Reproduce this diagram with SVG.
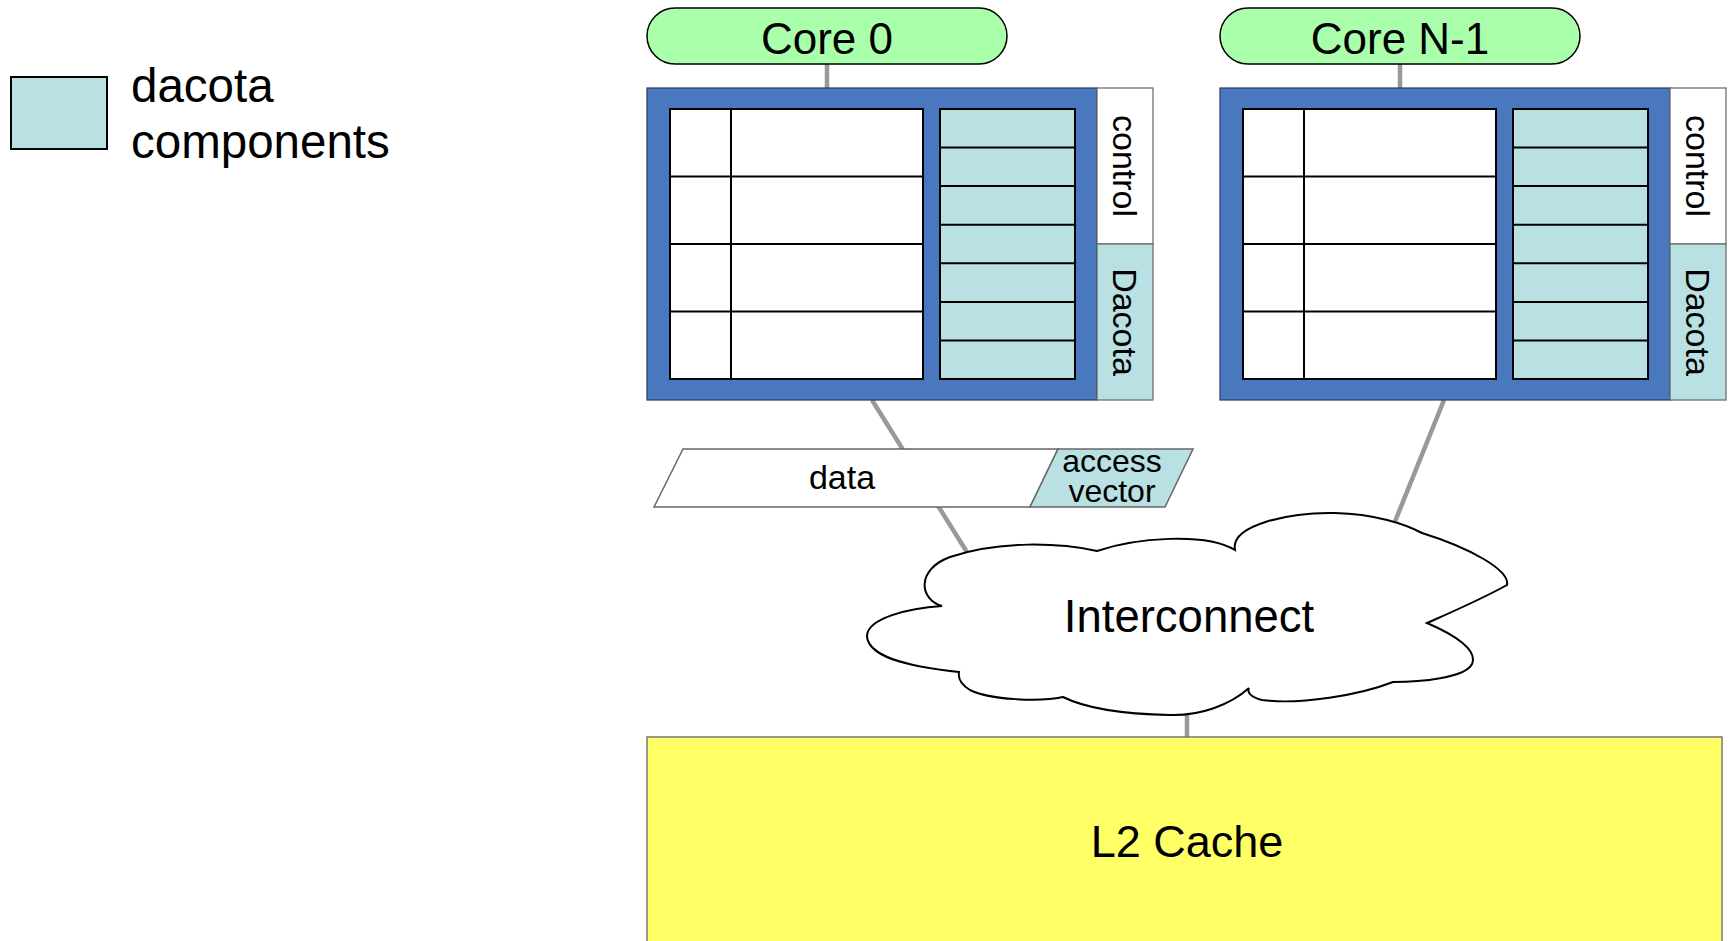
<svg xmlns="http://www.w3.org/2000/svg" width="1729" height="941" viewBox="0 0 1729 941">
  <style>
    text { font-family: "Liberation Sans", Arial, sans-serif; fill: #000; }
    .wire { stroke: #999; stroke-width: 4.5; fill: none; }
    .pill { fill: #aaffaa; stroke: #000; stroke-width: 1.5; }
    .frame { fill: #4a78be; stroke: #2a3a5a; stroke-width: 1.2; }
    .cell { fill: #fff; stroke: #000; stroke-width: 2; }
    .dcell { fill: #b9e0e2; stroke: #000; stroke-width: 2; }
    .grid { stroke: #000; stroke-width: 2; }
    .side { stroke: #666; stroke-width: 1.2; }
    .dac { fill: #b9e0e2; }
    .title { font-size: 44px; text-anchor: middle; }
    .vlabel { font-size: 34px; text-anchor: middle; }
  </style>

  <!-- links between blocks (drawn first so shapes sit on top) -->
  <g id="connectors">
    <line class="wire" x1="827" y1="63" x2="827" y2="89"/>
    <line class="wire" x1="1400" y1="63" x2="1400" y2="89"/>
    <line class="wire" x1="872" y1="400" x2="970" y2="557"/>
    <line class="wire" x1="1444" y1="400" x2="1394" y2="524"/>
    <line class="wire" x1="1187" y1="710" x2="1187" y2="738"/>
  </g>

  <!-- legend -->
  <g id="legend">
    <rect x="11" y="77" width="96" height="72" fill="#b9e0e2" stroke="#000" stroke-width="2"/>
    <text x="131" y="102" font-size="47.5">dacota</text>
    <text x="131" y="158" font-size="47.5">components</text>
  </g>

  <!-- core 0 -->
  <g id="core0">
    <rect class="pill" x="647" y="8" width="360" height="56" rx="28" ry="28"/>
    <text class="title" x="827" y="54">Core 0</text>
  </g>
  <g id="core0-block">
    <rect class="frame" x="647" y="88" width="450" height="312"/>
    <rect class="cell" x="670" y="109" width="253" height="270"/>
    <path class="grid" d="M731 109V379M670 176.5H923M670 244H923M670 311.5H923"/>
    <rect class="dcell" x="940" y="109" width="135" height="270"/>
    <path class="grid" d="M940 147.6H1075M940 186.1H1075M940 224.7H1075M940 263.3H1075M940 301.9H1075M940 340.4H1075"/>
    <rect x="1097" y="88" width="56" height="156" fill="#fff" class="side"/>
    <rect x="1097" y="244" width="56" height="156" class="dac side"/>
    <text class="vlabel" transform="translate(1113 166) rotate(90)">control</text>
    <text class="vlabel" transform="translate(1113 322) rotate(90)">Dacota</text>
  </g>

  <!-- core N-1 -->
  <g id="coreN1">
    <rect class="pill" x="1220" y="8" width="360" height="56" rx="28" ry="28"/>
    <text class="title" x="1400" y="54">Core N-1</text>
  </g>
  <g id="coreN1-block">
    <rect class="frame" x="1220" y="88" width="450" height="312"/>
    <rect class="cell" x="1243" y="109" width="253" height="270"/>
    <path class="grid" d="M1304 109V379M1243 176.5H1496M1243 244H1496M1243 311.5H1496"/>
    <rect class="dcell" x="1513" y="109" width="135" height="270"/>
    <path class="grid" d="M1513 147.6H1648M1513 186.1H1648M1513 224.7H1648M1513 263.3H1648M1513 301.9H1648M1513 340.4H1648"/>
    <rect x="1670" y="88" width="56" height="156" fill="#fff" class="side"/>
    <rect x="1670" y="244" width="56" height="156" class="dac side"/>
    <text class="vlabel" transform="translate(1686 166) rotate(90)">control</text>
    <text class="vlabel" transform="translate(1686 322) rotate(90)">Dacota</text>
  </g>

  <!-- message: data + access vector -->
  <g id="message">
    <polygon points="683,449 1058,449 1030,507 654,507" fill="#fff" stroke="#666" stroke-width="1.5"/>
    <polygon points="1058,449 1193,449 1165,507 1030,507" fill="#b9e0e2" stroke="#666" stroke-width="1.5"/>
    <text x="842" y="489" font-size="34" text-anchor="middle">data</text>
    <text x="1112" y="472" font-size="32" text-anchor="middle">access</text>
    <text x="1112" y="502" font-size="32" text-anchor="middle">vector</text>
  </g>

  <!-- interconnect cloud -->
  <g id="interconnect">
    <path fill="#fff" stroke="#000" stroke-width="2" d="M942 606 C920 600 915 570 950 557 C1000 540 1060 543 1097 551 C1135 538 1205 532 1235 550 C1230 525 1290 512 1335 513 C1375 514 1405 524 1422 533 C1470 548 1510 570 1507 585 C1480 600 1445 615 1427 623 C1455 635 1478 650 1472 664 C1465 678 1420 682 1393 682 C1360 695 1300 705 1262 700 C1250 697 1247 692 1249 688 C1230 705 1200 716 1170 715 C1120 714 1085 708 1063 697 C1040 702 990 700 970 690 C960 684 958 678 959 672 C920 668 870 660 867 637 C866 618 910 608 942 606 Z"/>
    <text x="1189" y="632" font-size="45.5" text-anchor="middle">Interconnect</text>
  </g>

  <!-- shared cache -->
  <g id="l2cache">
    <rect x="647" y="737" width="1075" height="220" fill="#ffff66" stroke="#777" stroke-width="1.5"/>
    <text x="1187" y="857" font-size="45" text-anchor="middle">L2 Cache</text>
  </g>
</svg>
